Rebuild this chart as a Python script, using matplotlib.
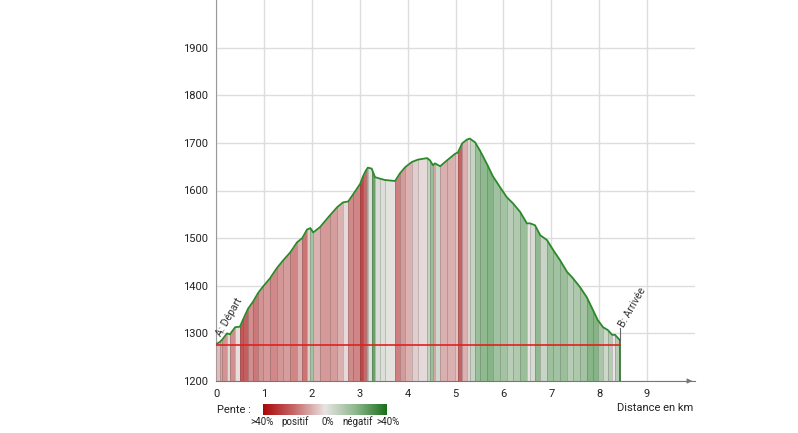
import matplotlib
matplotlib.use("Agg")
import matplotlib.pyplot as plt
import numpy as np
from matplotlib.colors import LinearSegmentedColormap, Normalize

plt.rcParams['font.family'] = ['Roboto', 'DejaVu Sans']

# Distance (km) and elevation (m) read from the profile
distance_km = [0.00, 0.08, 0.13, 0.23, 0.29, 0.40, 0.50, 0.56, 0.67, 0.77,
               0.88, 0.98, 1.13, 1.27, 1.40, 1.55, 1.69, 1.80, 1.90, 1.97,
               2.03, 2.17, 2.38, 2.53, 2.65, 2.76, 2.87, 3.01, 3.07, 3.13,
               3.17, 3.25, 3.32, 3.42, 3.53, 3.74, 3.84, 3.95, 4.09, 4.22,
               4.41, 4.47, 4.53, 4.57, 4.68, 4.82, 4.99, 5.05, 5.14, 5.24,
               5.30, 5.41, 5.51, 5.66, 5.78, 5.93, 6.07, 6.20, 6.35, 6.49,
               6.56, 6.66, 6.77, 6.91, 7.04, 7.18, 7.33, 7.45, 7.60, 7.74,
               7.87, 7.97, 8.08, 8.18, 8.27, 8.33, 8.43]
elevation_m = [1277, 1282, 1287, 1300, 1298, 1313, 1314, 1328, 1352, 1366,
               1385, 1398, 1416, 1437, 1453, 1470, 1491, 1500, 1518, 1521,
               1512, 1523, 1548, 1565, 1575, 1577, 1593, 1614, 1630, 1642,
               1648, 1646, 1628, 1625, 1622, 1620, 1636, 1649, 1660, 1665,
               1668, 1663, 1653, 1657, 1651, 1663, 1677, 1680, 1699, 1707,
               1709, 1701, 1684, 1655, 1630, 1607, 1586, 1573, 1555, 1531,
               1531, 1527, 1506, 1496, 1475, 1454, 1429, 1416, 1397, 1376,
               1349, 1328, 1313, 1307, 1297, 1297, 1286]
start_elevation = 1276

y_ticks = [1200, 1300, 1400, 1500, 1600, 1700, 1800, 1900]
x_ticks = [0, 1, 2, 3, 4, 5, 6, 7, 8, 9]
legend_labels = [">40%", "positif", "0%", "négatif", ">40%"]

cmap = LinearSegmentedColormap.from_list(
    "pente", ["#a80808", "#c86868", "#e8e4e4", "#8cb88c", "#1a6e1a"])
norm = Normalize(vmin=-40, vmax=40)

fig = plt.figure(figsize=(7.98, 4.33), dpi=100)
ax = fig.add_axes([216/798, 52/433, 479/798, 381/433])

d = np.array(distance_km)
e = np.array(elevation_m)
for i in range(len(d) - 1):
    slope = (e[i+1] - e[i]) / ((d[i+1] - d[i]) * 1000) * 100
    col = cmap(norm(-slope))
    ax.fill_between(d[i:i+2], 1200, e[i:i+2], color=col, lw=0, zorder=2)
    dark = tuple(c * 0.8 for c in col[:3])
    ax.plot([d[i], d[i]], [1200, e[i]], color=dark, lw=0.6, zorder=3)

ax.plot(d, e, color="#2a8a2a", lw=1.3, zorder=4)
ax.plot([d[0], d[-1]], [start_elevation, start_elevation], color="#e02020", lw=1.2, zorder=5)
ax.plot([d[-1], d[-1]], [1200, e[-1]], color="#2a6e2a", lw=1.2, zorder=4)
ax.plot([d[-1], d[-1]], [e[-1], e[-1] + 25], color="#666666", lw=0.8, zorder=4)

ax.text(0.15, 1290, "A: Départ", rotation=60, rotation_mode="anchor",
        ha="left", va="bottom", fontsize=7.5, color="#333333", zorder=6)
ax.text(8.55, 1310, "B: Arrivée", rotation=60, rotation_mode="anchor",
        ha="left", va="bottom", fontsize=7.5, color="#333333", zorder=6)

ax.set_xlim(0, 10)
ax.set_ylim(1200, 2000)
ax.set_xticks(x_ticks)
ax.set_yticks(y_ticks)
ax.set_xticklabels([str(t) for t in x_ticks])
ax.set_yticklabels([str(t) for t in y_ticks])
ax.tick_params(length=0, labelsize=8, colors="#222222", pad=6)
ax.grid(True, color="#dddddd", lw=1, zorder=0)
ax.set_axisbelow(True)
for s in ["top", "right"]:
    ax.spines[s].set_visible(False)
ax.spines["left"].set_color("#999999")
ax.spines["bottom"].set_color("#777777")
ax.annotate("", xy=(1.0, 0), xycoords="axes fraction", xytext=(0.98, 0),
            arrowprops=dict(arrowstyle="-|>", color="#777777", lw=0.8,
                            mutation_scale=7))

fig.text(693/798, 1 - 408/433, "Distance en km", ha="right", va="center",
         fontsize=8, color="#222222")
fig.text(217/798, 1 - 410/433, "Pente :", ha="left", va="center",
         fontsize=8, color="#222222")

cax = fig.add_axes([263/798, 1 - 415/433, 124/798, 11/433])
grad = np.linspace(0, 1, 256).reshape(1, -1)
cax.imshow(grad, aspect="auto", cmap=cmap, extent=[0, 1, 0, 1])
cax.set_axis_off()

legend_x = [262, 295, 328, 358, 388]
for lx, lab in zip(legend_x, legend_labels):
    fig.text(lx/798, 1 - 422/433, lab, ha="center", va="center",
             fontsize=7, color="#222222")

fig.savefig("out.png", dpi=100)
